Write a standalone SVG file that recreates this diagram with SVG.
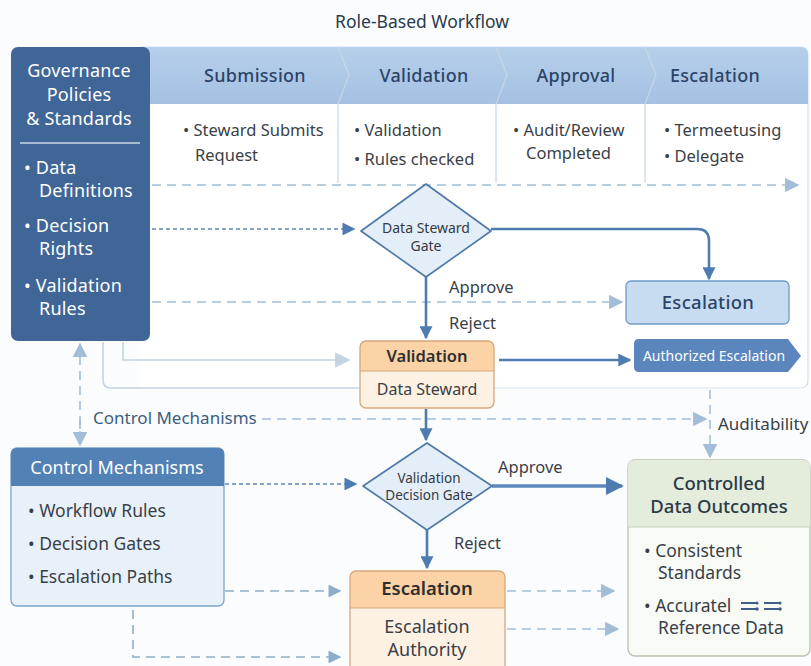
<svg xmlns="http://www.w3.org/2000/svg" width="811" height="666" viewBox="0 0 811 666">
  <defs>
    <style>
      text { font-family: "Noto Sans", "Open Sans", "Liberation Sans", sans-serif; }
      .title { font-size: 17.5px; fill: #2a3a4c; text-anchor: middle; }
      .hdr { font-size: 18px; fill: #2c4468; text-anchor: middle; font-weight: 500; letter-spacing: 0.3px; }
      .body { font-size: 16.5px; fill: #3a3f47; }
      .gov { font-size: 18px; fill: #ffffff; letter-spacing: 0.2px; }
      .lbl { font-size: 16.5px; fill: #3a3f47; }
      .gate { font-size: 14px; fill: #333a44; text-anchor: middle; }
      .sep { stroke: #c9d7e6; stroke-width: 1.2; fill: none; }
      .solid { stroke: #4f7cb0; stroke-width: 2.6; fill: none; }
      .dashD { stroke: #5f88b8; stroke-width: 1.6; fill: none; stroke-dasharray: 4 3; }
      .dashL { stroke: #a3bdd8; stroke-width: 1.6; fill: none; stroke-dasharray: 9 6; }
      .dashM { stroke: #8facca; stroke-width: 1.6; fill: none; stroke-dasharray: 9 6; }
      .light { stroke: #c4d4e4; stroke-width: 1.6; fill: none; }
      .diamond { fill: #e4eef8; stroke: #4d78a8; stroke-width: 1.6; }
      .orgHead { fill: #fbd3a6; }
      .orgBody { fill: #fdf1e3; }
      .orgEdge { fill: none; stroke: #d7a77a; stroke-width: 1.3; }
    </style>
    <linearGradient id="hdrGrad" x1="0" y1="0" x2="0" y2="1">
      <stop offset="0" stop-color="#b6cfea"/>
      <stop offset="1" stop-color="#a4c1e3"/>
    </linearGradient>
    <marker id="aSolid" viewBox="0 0 10 10" refX="9" refY="5" markerWidth="5" markerHeight="5" orient="auto">
      <path d="M0,0 L10,5 L0,10 z" fill="#4f7cb0"/>
    </marker>
    <marker id="aDark" viewBox="0 0 10 10" refX="9" refY="5" markerWidth="8" markerHeight="8" orient="auto">
      <path d="M0,0 L10,5 L0,10 z" fill="#4f7cb0"/>
    </marker>
    <marker id="aLight" viewBox="0 0 10 10" refX="9" refY="5" markerWidth="9" markerHeight="9" orient="auto">
      <path d="M0,0 L10,5 L0,10 z" fill="#a3bdd8"/>
    </marker>
    <marker id="aMid" viewBox="0 0 10 10" refX="9" refY="5" markerWidth="8" markerHeight="8" orient="auto">
      <path d="M0,0 L10,5 L0,10 z" fill="#8facca"/>
    </marker>
    <marker id="aPale" viewBox="0 0 10 10" refX="9" refY="5" markerWidth="10" markerHeight="10" orient="auto">
      <path d="M0,0 L10,5 L0,10 z" fill="#c4d4e4"/>
    </marker>
  </defs>

  <rect x="0" y="0" width="811" height="666" fill="#fbfcfd"/>

  <text class="title" x="422" y="28">Role-Based Workflow</text>

  <!-- workflow panel -->
  <g id="workflow-panel">
    <path d="M140,47 H800 Q808,47 808,55 V380 Q808,388 800,388 H140 z" fill="#ffffff"/>
    <path d="M140,47 H800 Q808,47 808,55 V380 Q808,388 800,388 H494" fill="none" stroke="#d3dfeb" stroke-width="1.2"/>
    <path d="M140,47 H800 Q808,47 808,55 V104 H140 z" fill="url(#hdrGrad)"/>
    <path class="sep" d="M338,47 L349,75 L338,104 V183"/>
    <path class="sep" d="M496,47 L507,75 L496,104 V183"/>
    <path class="sep" d="M645,47 L656,75 L645,104 V183"/>
    <text class="hdr" x="255" y="82">Submission</text>
    <text class="hdr" x="424" y="82">Validation</text>
    <text class="hdr" x="576" y="82">Approval</text>
    <text class="hdr" x="715" y="82">Escalation</text>
    <text class="body" x="183" y="136">• Steward Submits</text>
    <text class="body" x="195" y="161">Request</text>
    <text class="body" x="354" y="136">• Validation</text>
    <text class="body" x="354" y="165">• Rules checked</text>
    <text class="body" x="513" y="136">• Audit/Review</text>
    <text class="body" x="526" y="159">Completed</text>
    <text class="body" x="664" y="136">• Termeetusing</text>
    <text class="body" x="664" y="162">• Delegate</text>
  </g>

  <!-- governance block -->
  <g id="governance">
    <rect x="11" y="47" width="139" height="294" rx="7" fill="#3f6696"/>
    <text class="gov" x="79" y="77" text-anchor="middle">Governance</text>
    <text class="gov" x="79" y="101" text-anchor="middle">Policies</text>
    <text class="gov" x="79" y="125" text-anchor="middle">&amp; Standards</text>
    <line x1="20" y1="143" x2="140" y2="143" stroke="#c9d6e6" stroke-width="1.3"/>
    <text class="gov" x="24" y="174">• Data</text>
    <text class="gov" x="39" y="197">Definitions</text>
    <text class="gov" x="24" y="232">• Decision</text>
    <text class="gov" x="39" y="255">Rights</text>
    <text class="gov" x="24" y="292">• Validation</text>
    <text class="gov" x="39" y="315">Rules</text>
  </g>

  <!-- connectors -->
  <g id="connectors">
    <path class="dashL" d="M152,185 H798" marker-end="url(#aLight)"/>
    <path class="dashD" d="M152,229 H354" marker-end="url(#aDark)"/>
    <path class="solid" d="M491,229 H697 Q709,229 709,241 V279" marker-end="url(#aSolid)"/>
    <path class="dashL" d="M152,302 H622" marker-end="url(#aLight)"/>
    <path class="solid" d="M426,277 V338" marker-end="url(#aSolid)"/>
    <path class="solid" d="M499,360 H630" marker-end="url(#aSolid)"/>
    <path class="light" d="M123,342 V360 H349" marker-end="url(#aPale)"/>
    <path class="light" d="M103,342 V380 Q103,388 111,388 H362"/>
    <path class="dashL" d="M262,419 H706" marker-end="url(#aLight)"/>
    <path class="dashL" d="M710,390 V457" marker-end="url(#aLight)"/>
    <path class="solid" d="M426,409 V440" marker-end="url(#aSolid)"/>
    <path class="dashL" d="M80,440 V344" marker-end="url(#aLight)"/>
    <path class="dashL" d="M80,420 V445" marker-end="url(#aLight)"/>
    <path class="dashD" d="M225,484 H356" stroke-dasharray="9 6" marker-end="url(#aDark)"/>
    <path d="M492,486 H622" stroke="#5b87bb" stroke-width="3.6" fill="none" marker-end="url(#aSolid)"/>
    <path class="solid" d="M427,530 V568" marker-end="url(#aSolid)"/>
    <path class="dashM" d="M225,591 H340" marker-end="url(#aMid)"/>
    <path class="dashM" d="M133,610 V657 H340" marker-end="url(#aMid)"/>
    <path class="dashL" d="M507,591 H614" marker-end="url(#aLight)"/>
    <path class="dashL" d="M507,629 H618" marker-end="url(#aLight)"/>
  </g>

  <text class="lbl" x="449" y="293">Approve</text>
  <text class="lbl" x="449" y="329">Reject</text>
  <text class="lbl" x="93" y="424" style="fill:#3d5e80;font-size:17px">Control Mechanisms</text>
  <text class="lbl" x="718" y="430" style="font-size:17px">Auditability</text>
  <text class="lbl" x="498" y="473">Approve</text>
  <text class="lbl" x="454" y="549">Reject</text>

  <!-- data steward gate -->
  <g id="data-steward-gate">
    <path class="diamond" d="M426,184 L491,231 L426,277 L361,231 z" stroke-linejoin="round"/>
    <text class="gate" x="426" y="233">Data Steward</text>
    <text class="gate" x="426" y="251">Gate</text>
  </g>

  <!-- escalation (blue) -->
  <g id="escalation-blue">
    <rect x="626" y="281" width="163" height="43" rx="5" fill="#c7dcf1" stroke="#6f9bcc" stroke-width="1.3"/>
    <text class="hdr" x="708" y="309" style="font-size:18.5px">Escalation</text>
  </g>

  <!-- validation box -->
  <g id="validation">
    <rect x="360" y="341" width="134" height="67" rx="6" class="orgBody"/>
    <path d="M360,371 V347 Q360,341 366,341 H488 Q494,341 494,347 V371 z" class="orgHead"/>
    <line x1="360" y1="371" x2="494" y2="371" stroke="#d7a77a" stroke-width="1"/>
    <rect x="360" y="341" width="134" height="67" rx="6" class="orgEdge"/>
    <text x="427" y="362" text-anchor="middle" style="font-size:16.5px;font-weight:600;fill:#2f2f30">Validation</text>
    <text x="427" y="395" text-anchor="middle" style="font-size:16px;fill:#3a3f47">Data Steward</text>
  </g>

  <!-- authorized escalation -->
  <g id="authorized-escalation">
    <path d="M639,339 H788 L801,356 L788,372 H639 Q634,372 634,367 V344 Q634,339 639,339 z" fill="#5a86bd"/>
    <text x="714" y="361" text-anchor="middle" style="font-size:14px;fill:#ffffff">Authorized Escalation</text>
  </g>

  <!-- control mechanisms -->
  <g id="control-mechanisms">
    <rect x="11" y="448" width="213" height="158" rx="6" fill="#e8f1fa" stroke="#7ea3c8" stroke-width="1.3"/>
    <path d="M11,486 V454 Q11,448 17,448 H218 Q224,448 224,454 V486 z" fill="#5281b6"/>
    <text x="117" y="474" text-anchor="middle" style="font-size:18px;fill:#ffffff">Control Mechanisms</text>
    <text class="body" x="28" y="517" style="font-size:17.5px">• Workflow Rules</text>
    <text class="body" x="28" y="550" style="font-size:17.5px">• Decision Gates</text>
    <text class="body" x="28" y="583" style="font-size:17.5px">• Escalation Paths</text>
  </g>

  <!-- validation decision gate -->
  <g id="validation-decision-gate">
    <path class="diamond" d="M427,443 L492,486 L427,530 L363,486 z" stroke-linejoin="round"/>
    <text class="gate" x="429" y="483" style="font-size:13.5px">Validation</text>
    <text class="gate" x="429" y="500" style="font-size:13.5px">Decision Gate</text>
  </g>

  <!-- escalation authority -->
  <g id="escalation-authority">
    <rect x="350" y="571" width="155" height="105" rx="6" class="orgBody"/>
    <path d="M350,608 V577 Q350,571 356,571 H499 Q505,571 505,577 V608 z" class="orgHead"/>
    <line x1="350" y1="608" x2="505" y2="608" stroke="#d7a77a" stroke-width="1"/>
    <rect x="350" y="571" width="155" height="105" rx="6" class="orgEdge"/>
    <text x="427" y="595" text-anchor="middle" style="font-size:18.5px;font-weight:600;fill:#2f2f30">Escalation</text>
    <text x="427" y="633" text-anchor="middle" style="font-size:18px;fill:#3a3f47">Escalation</text>
    <text x="427" y="656" text-anchor="middle" style="font-size:18px;fill:#3a3f47">Authority</text>
  </g>

  <!-- controlled data outcomes -->
  <g id="controlled-outcomes">
    <rect x="628" y="460" width="182" height="196" rx="7" fill="#f8faf6" stroke="#b5c2ad" stroke-width="1.3"/>
    <path d="M628,527 V467 Q628,460 635,460 H803 Q810,460 810,467 V527 z" fill="#e4ecdb"/>
    <line x1="628" y1="527" x2="810" y2="527" stroke="#c5d0bd" stroke-width="1"/>
    <text x="719" y="490" text-anchor="middle" style="font-size:18.5px;font-weight:500;fill:#2c3b48">Controlled</text>
    <text x="719" y="513" text-anchor="middle" style="font-size:18.5px;font-weight:500;fill:#2c3b48">Data Outcomes</text>
    <text class="body" x="644" y="557" style="font-size:17.5px">• Consistent</text>
    <text class="body" x="658" y="579" style="font-size:17.5px">Standards</text>
    <text class="body" x="644" y="612" style="font-size:17.5px">• Accuratel</text>
    <text class="body" x="658" y="634" style="font-size:17.5px">Reference Data</text>
    <g stroke="#3f5f8a" stroke-width="1.8" fill="none">
      <path d="M741,603 H757 M741,609 H757"/>
      <path d="M764,603 H780 M764,609 H780"/>
    </g>
    <g fill="#3f5f8a">
      <circle cx="757" cy="609" r="1.8"/>
      <circle cx="780" cy="609" r="1.8"/>
      <circle cx="757" cy="603" r="1.5"/>
      <circle cx="780" cy="603" r="1.5"/>
    </g>
  </g>
</svg>
